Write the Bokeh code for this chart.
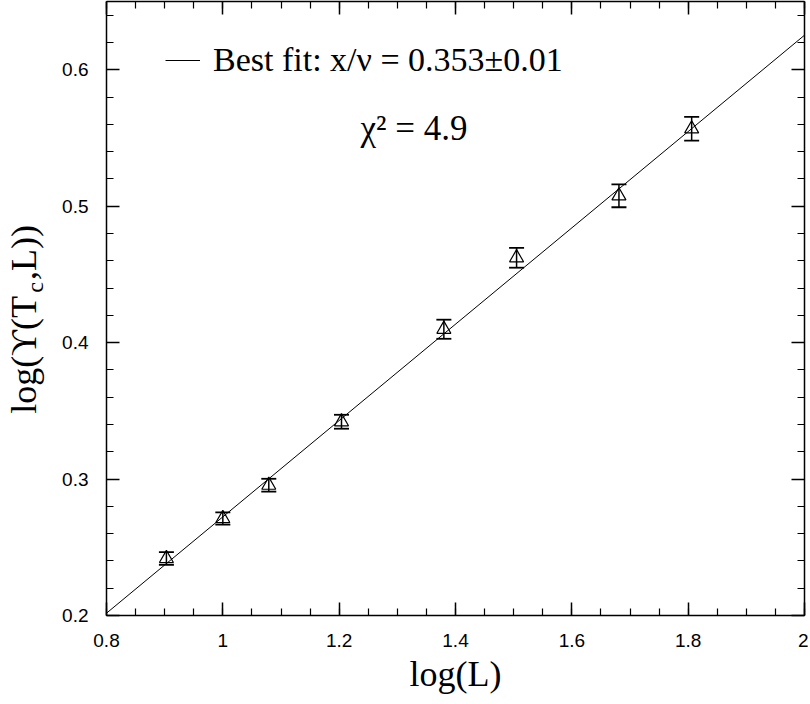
import math
import numpy as np
from bokeh.plotting import figure
from bokeh.layouts import row
from bokeh.models import (Range1d, LinearAxis, FixedTicker, Whisker, TeeHead,
                          ColumnDataSource, Label, Legend, LegendItem)
from bokeh.embed import file_html
from bokeh.resources import INLINE

# ---- data ----
log_L = [0.903, 1.000, 1.079, 1.204, 1.380, 1.505, 1.681, 1.806]
log_ups = [0.2418, 0.2711, 0.2955, 0.3420, 0.4098, 0.4622, 0.5076, 0.5567]
errors = [0.0046, 0.0045, 0.0047, 0.0051, 0.0070, 0.0073, 0.0084, 0.0087]

fit_slope = 0.353
fit_intercept = -0.0807
fit_x = [0.8, 2.0]

x_ticks = [0.8, 1.0, 1.2, 1.4, 1.6, 1.8, 2.0]
x_tick_labels = ["0.8", "1", "1.2", "1.4", "1.6", "1.8", "2"]
y_ticks = [0.2, 0.3, 0.4, 0.5, 0.6]
y_tick_labels = ["0.2", "0.3", "0.4", "0.5", "0.6"]

legend_text = "Best fit: x/\u03bd = 0.353\u00b10.01"
chi_text = "\u03c7\u00b2 = 4.9"
ylabel_main = "log(\u03d2(T"
ylabel_sub = "c"
ylabel_tail = ",L))"

SERIF = "Liberation Serif"
SANS = "Liberation Sans"

H = 700
LW = 56          # width of the strip holding the y-axis title
W = 808

x_minor = [round(v, 3) for v in np.arange(0.8, 2.0001, 0.05)]
y_minor = [round(v, 3) for v in np.arange(0.2, 0.6501, 0.02)]

yrange = Range1d(0.2, 0.65)

# ---- strip with the rotated y-axis title (shares the y scale) ----
lab = figure(width=LW, height=H, output_backend="svg", toolbar_location=None,
             x_range=Range1d(0, LW), y_range=yrange,
             x_axis_location=None, y_axis_location=None,
             min_border=0)
lab.outline_line_color = None
lab.grid.visible = False
lab.background_fill_color = "white"
lab.border_fill_color = "white"

ang = math.pi / 2
kw = dict(angle=ang, text_font=SERIF, text_color="black",
          text_baseline="middle", text_align="center")
lab.add_layout(Label(x=23, y=0.391, text=ylabel_main,
                     text_font_size="36px", **kw))
lab.add_layout(Label(x=34, y=0.4405, text=ylabel_sub,
                     text_font_size="24px", **kw))
lab.add_layout(Label(x=23, y=0.4661, text=ylabel_tail,
                     text_font_size="36px", **kw))

# ---- main plot ----
p = figure(width=W - LW, height=H, output_backend="svg", toolbar_location=None,
           x_range=Range1d(0.8, 2.0), y_range=yrange,
           x_axis_location=None, y_axis_location=None,
           min_border_left=106 - LW, min_border_right=4, min_border_top=1,
           min_border_bottom=85)
p.outline_line_color = None
p.background_fill_color = "white"
p.border_fill_color = "white"
p.grid.visible = False


def style_axis(ax, labels, hidden=False, standoff=14):
    ax.axis_line_color = "black"
    ax.axis_line_width = 1.5
    ax.major_tick_in = 13
    ax.major_tick_out = 0
    ax.minor_tick_in = 7
    ax.minor_tick_out = 0
    ax.major_tick_line_color = "black"
    ax.major_tick_line_width = 1.5
    ax.minor_tick_line_color = "black"
    ax.minor_tick_line_width = 1.2
    ax.major_label_text_font = SANS
    ax.major_label_standoff = standoff
    if hidden:
        ax.major_label_text_font_size = "1px"
        ax.major_label_text_color = None
    else:
        ax.major_label_text_font_size = "19px"
        ax.major_label_text_color = "black"
        ax.major_label_overrides = labels


xt = dict(zip(x_ticks, x_tick_labels))
yt = dict(zip(y_ticks, y_tick_labels))

xb = LinearAxis(ticker=FixedTicker(ticks=x_ticks, minor_ticks=x_minor))
style_axis(xb, xt, standoff=18)
xb.axis_label = "log(L)"
xb.axis_label_text_font = SERIF
xb.axis_label_text_font_style = "normal"
xb.axis_label_text_font_size = "36px"
xb.axis_label_text_color = "black"
xb.axis_label_standoff = 4
p.add_layout(xb, "below")

xa = LinearAxis(ticker=FixedTicker(ticks=x_ticks, minor_ticks=x_minor))
style_axis(xa, None, hidden=True, standoff=0)
p.add_layout(xa, "above")

yl = LinearAxis(ticker=FixedTicker(ticks=y_ticks, minor_ticks=y_minor))
style_axis(yl, yt, standoff=18)
p.add_layout(yl, "left")

yr = LinearAxis(ticker=FixedTicker(ticks=y_ticks, minor_ticks=y_minor))
style_axis(yr, None, hidden=True, standoff=0)
p.add_layout(yr, "right")

# ---- best-fit line ----
fit_y = [fit_slope * v + fit_intercept for v in fit_x]
fit_r = p.line(fit_x, fit_y, line_color="black", line_width=1)

# ---- data points with error bars ----
src = ColumnDataSource(dict(
    x=log_L, y=log_ups,
    lo=[a - b for a, b in zip(log_ups, errors)],
    hi=[a + b for a, b in zip(log_ups, errors)],
))
wh = Whisker(source=src, base="x", lower="lo", upper="hi",
             line_color="black", line_width=1.5,
             upper_head=TeeHead(size=15, line_width=1.8, line_color="black"),
             lower_head=TeeHead(size=15, line_width=1.8, line_color="black"))
p.add_layout(wh)
p.scatter("x", "y", source=src, marker="triangle", size=14,
          fill_color=None, line_color="black", line_width=1.2)

# ---- legend (fit line) ----
leg = Legend(items=[LegendItem(label=legend_text, renderers=[fit_r])],
             location=(59, 536), glyph_width=35, glyph_height=34,
             label_height=34, label_standoff=13, padding=0, margin=0,
             spacing=0, border_line_alpha=0, background_fill_alpha=0,
             label_text_font=SERIF, label_text_font_size="34px",
             label_text_color="black")
p.add_layout(leg)

p.add_layout(Label(x=254, y=487, x_units="screen", y_units="screen",
                   text=chi_text, text_font=SERIF, text_font_size="35px",
                   text_color="black", text_baseline="alphabetic"))

layout = row(lab, p, spacing=0)
open("out.html", "w").write(file_html(layout, INLINE))
